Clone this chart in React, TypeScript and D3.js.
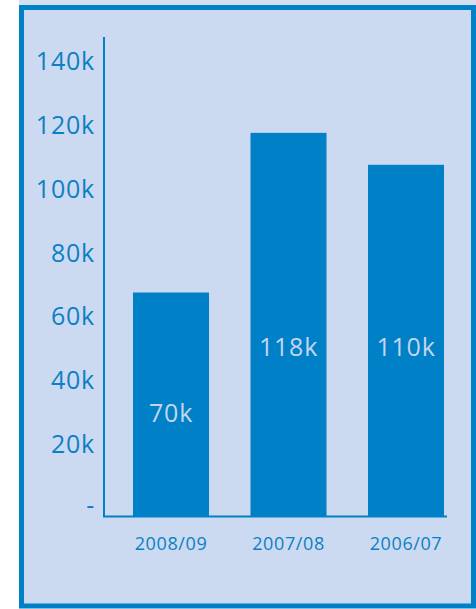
import React from "react";
import * as d3 from "d3";

const categories = ["2008/09", "2007/08", "2006/07"];
const values = [70000, 120000, 110000];
const valueLabels = ["70k", "118k", "110k"];
const yTicks = [0, 20000, 40000, 60000, 80000, 100000, 120000, 140000];

const W = 476;
const H = 609;
const BLUE = "#0080c6";
const BG = "#cbdaf0";
const TEXT = "#0b80c6";
const LABEL = "#c4d6ee";
const FONT = "'Open Sans', 'Noto Sans', sans-serif";

export default function App() {
  const x = d3.scaleBand<string>().domain(categories).range([133, 444]).paddingInner(0.353).paddingOuter(0);
  const y = d3.scaleLinear().domain([0, 140000]).range([516, 69]);
  const axisX = 104;
  const baseY = y(0);
  const labelY = (v: number) => Math.max(y(v) + 129, y(50000));

  return (
    <svg width={W} height={H} style={{ position: "absolute", left: 0, top: 0 }}>
      <rect x={19} y={0} width={457} height={5} fill="#d3dfec" />
      <rect x={21.5} y={7.5} width={452} height={598.5} fill={BG} stroke={BLUE} strokeWidth={5} />
      {categories.map((c, i) => (
        <rect key={c} x={x(c)} y={y(values[i])} width={x.bandwidth()} height={baseY - y(values[i])} fill={BLUE} />
      ))}
      <line x1={axisX} x2={axisX} y1={37} y2={baseY + 1} stroke={BLUE} strokeWidth={2} />
      <line x1={axisX - 1} x2={447} y1={baseY + 0.5} y2={baseY + 0.5} stroke={BLUE} strokeWidth={2} />
      {yTicks.map((t) => (
        <text key={t} x={95} y={t === 0 ? y(t) - 2 : y(t) + 1} textAnchor="end" fill={TEXT} fontFamily={FONT} fontSize={25} letterSpacing={0.8}>
          {t === 0 ? "-" : `${t / 1000}k`}
        </text>
      ))}
      {categories.map((c, i) => (
        <text key={c + "l"} x={(x(c) as number) + x.bandwidth() / 2} y={labelY(values[i])} textAnchor="middle" fill={LABEL} fontFamily={FONT} fontSize={25} letterSpacing={0.8}>
          {valueLabels[i]}
        </text>
      ))}
      {categories.map((c) => (
        <text key={c + "x"} x={(x(c) as number) + x.bandwidth() / 2} y={550} textAnchor="middle" fill={TEXT} fontFamily={FONT} fontSize={18} letterSpacing={0.6}>
          {c}
        </text>
      ))}
    </svg>
  );
}
